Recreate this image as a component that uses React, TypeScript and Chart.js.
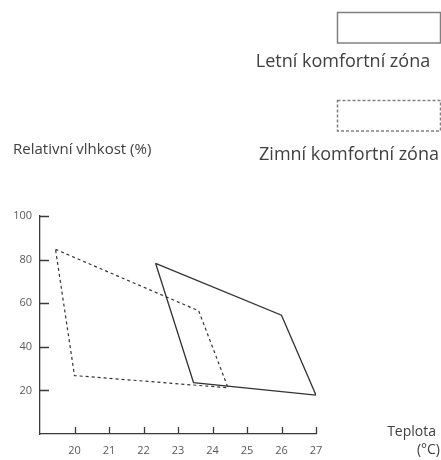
import React, { useEffect, useRef } from "react";
import { Chart, registerables } from "chart.js";

Chart.register(...registerables);

const summerTemp = [22.35, 26.0, 27.0, 23.45, 22.35];
const summerHum = [78.3, 54.5, 17.8, 23.6, 78.3];
const winterTemp = [19.45, 23.6, 24.45, 20.0, 19.45];
const winterHum = [84.7, 56.5, 21.2, 26.8, 84.7];
const xTicks = [20, 21, 22, 23, 24, 25, 26, 27];
const yTicks = [20, 40, 60, 80, 100];
const summerLabel = "Letní komfortní zóna";
const winterLabel = "Zimní komfortní zóna";
const yTitle = "Relativní vlhkost (%)";
const xTitle = ["Teplota", "(°C)"];

const FONT = "'Open Sans', sans-serif";
const TEXT = "#404040";
const AXIS = "#3a3a3a";

const decor = {
  id: "decor",
  afterDraw(chart: any) {
    const ctx = chart.ctx;
    const { left, bottom } = chart.chartArea;
    const xs = chart.scales.x;
    const ys = chart.scales.y;
    ctx.save();
    ctx.strokeStyle = AXIS;
    ctx.lineWidth = 1.3;
    ctx.beginPath();
    xTicks.forEach((v) => {
      const px = Math.round(xs.getPixelForValue(v)) + 0.5;
      ctx.moveTo(px, bottom);
      ctx.lineTo(px, bottom - 7);
    });
    yTicks.forEach((v) => {
      const py = Math.round(ys.getPixelForValue(v)) + 0.5;
      ctx.moveTo(left, py);
      ctx.lineTo(left + 9, py);
    });
    ctx.stroke();

    // legend boxes
    ctx.strokeStyle = "#808080";
    ctx.lineWidth = 1.5;
    ctx.strokeRect(337.5, 12.5, 103, 30.5);
    ctx.setLineDash([3, 2]);
    ctx.strokeRect(337.5, 100.5, 103, 30.5);
    ctx.setLineDash([]);

    ctx.fillStyle = TEXT;
    ctx.textBaseline = "middle";
    ctx.font = `18px ${FONT}`;
    ctx.textAlign = "center";
    ctx.fillText(summerLabel, 343, 62);
    ctx.fillText(winterLabel, 349, 155);

    ctx.font = `15px ${FONT}`;
    ctx.textAlign = "left";
    ctx.fillText(yTitle, 13, 150);

    ctx.font = `14px ${FONT}`;
    ctx.textAlign = "right";
    ctx.fillText(xTitle[0], 436, 432);
    ctx.fillText(xTitle[1], 440, 450);
    ctx.restore();
  },
};

export default function App() {
  const ref = useRef<HTMLCanvasElement | null>(null);
  useEffect(() => {
    if (!ref.current) return;
    const chart = new Chart(ref.current, {
      type: "scatter",
      data: {
        datasets: [
          {
            label: summerLabel,
            data: summerTemp.map((x, i) => ({ x, y: summerHum[i] })),
            showLine: true,
            borderColor: "#333333",
            borderWidth: 1.3,
            pointRadius: 0,
            fill: false,
          },
          {
            label: winterLabel,
            data: winterTemp.map((x, i) => ({ x, y: winterHum[i] })),
            showLine: true,
            borderColor: "#333333",
            borderWidth: 1.2,
            borderDash: [3, 3],
            pointRadius: 0,
            fill: false,
          },
        ],
      },
      options: {
        animation: false,
        responsive: false,
        layout: { padding: { top: 216, right: 125, left: 0, bottom: 0 } },
        plugins: { legend: { display: false }, tooltip: { enabled: false } },
        scales: {
          x: {
            type: "linear",
            min: 19,
            max: 27,
            afterBuildTicks: (s: any) => {
              s.ticks = xTicks.map((v) => ({ value: v }));
            },
            afterFit: (s: any) => {
              s.height = 26;
            },
            grid: { display: false, drawTicks: false },
            border: { display: true, color: AXIS, width: 1.3 },
            ticks: {
              padding: 10,
              color: "#595959",
              font: { family: FONT, size: 11 },
              maxRotation: 0,
              autoSkip: false,
            },
          },
          y: {
            type: "linear",
            min: 0,
            max: 100,
            afterBuildTicks: (s: any) => {
              s.ticks = yTicks.map((v) => ({ value: v }));
            },
            afterFit: (s: any) => {
              s.width = 40;
            },
            grid: { display: false, drawTicks: false },
            border: { display: true, color: AXIS, width: 1.3 },
            ticks: {
              padding: 8,
              color: "#595959",
              font: { family: FONT, size: 11 },
              autoSkip: false,
            },
          },
        },
      },
      plugins: [decor],
    });
    return () => chart.destroy();
  }, []);
  return (
    <div style={{ position: "absolute", left: 0, top: 0, width: 441, height: 460 }}>
      <canvas ref={ref} width={441} height={460} style={{ display: "block" }} />
    </div>
  );
}
